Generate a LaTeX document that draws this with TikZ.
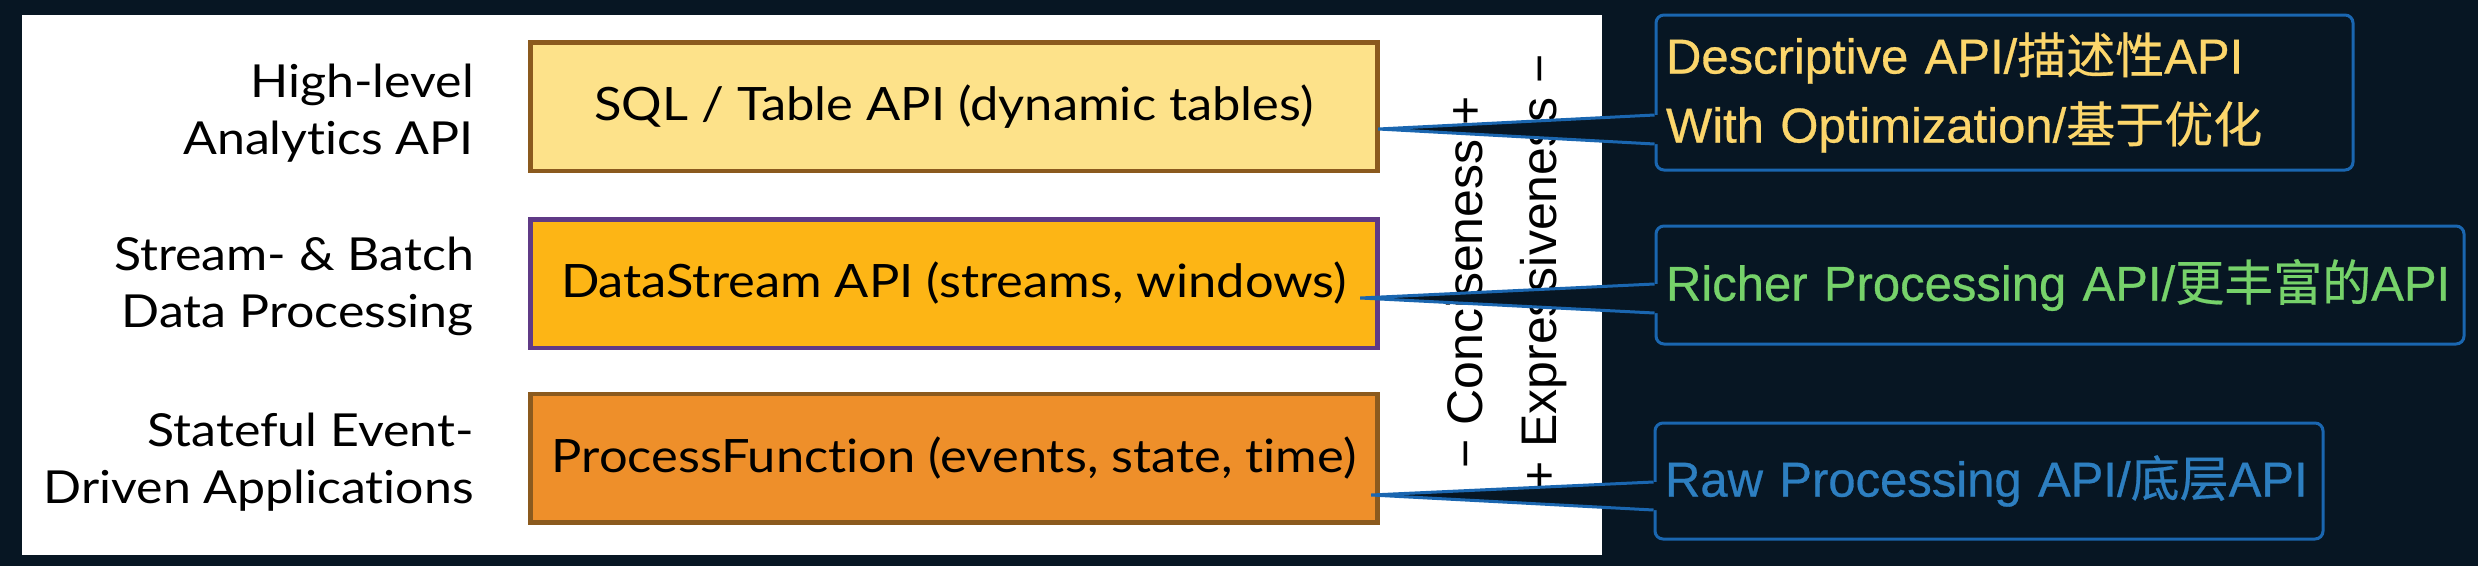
\documentclass[tikz,border=0pt]{standalone}
\usepackage{fontspec}
\setmainfont{Lato}[FakeStretch=1.1, Ligatures=NoCommon]
\newfontfamily\helv{Liberation Sans}[FakeBold=0.6]
\newfontfamily\helvplain{Liberation Sans}
\newfontfamily\cjk{Noto Sans CJK SC}[FakeBold=0.4]
\usetikzlibrary{calc}
\definecolor{bgdark}{HTML}{071623}
\definecolor{yfill}{HTML}{FDE28A}
\definecolor{gfill}{HTML}{FDB515}
\definecolor{ofill}{HTML}{EE8F2A}
\definecolor{brownb}{HTML}{8B5A1E}
\definecolor{purpleb}{HTML}{5F3A86}
\definecolor{callblue}{HTML}{1A66B0}
\definecolor{tyellow}{HTML}{FCD66B}
\definecolor{tgreen}{HTML}{76D26A}
\definecolor{tblue}{HTML}{2D7FC1}
\tikzset{
  apibox/.style={draw, line width=4.5pt, minimum width=847pt, minimum height=128.5pt, inner sep=0pt,
    font=\fontsize{46}{55}\selectfont},
  lab/.style={align=right, inner sep=0pt, font=\fontsize{45.5}{57}\selectfont},
  vtext/.style={rotate=90, anchor=base, inner sep=0pt, font=\helvplain\fontsize{50}{60}\selectfont},
  callout/.style={draw=callblue, fill=bgdark, line width=3pt, rounded corners=8pt,
    inner xsep=10pt, inner ysep=0pt, align=left, font=\helv\fontsize{49}{69}\selectfont},
  wedgefill/.style={fill=bgdark},
  wedgeline/.style={draw=callblue, line width=3pt, line join=miter},
}
\begin{document}
\begin{tikzpicture}[x=1pt, y=-1pt]
\useasboundingbox (0,0) rectangle (2478,566);
\fill[bgdark] (0,0) rectangle (2478,566);
\fill[white] (22,15) rectangle (1602,555);

% API boxes
\node[apibox, fill=yfill, draw=brownb] (b1) at (954,106.5) {SQL / Table API (dynamic tables)};
\node[apibox, fill=gfill, draw=purpleb] (b2) at (954,283.5) {DataStream API (streams, windows)};
\node[apibox, fill=ofill, draw=brownb] (b3) at (954,458) {ProcessFunction (events, state, time)};

% left labels
\node[lab, anchor=east] (l1) at (474,113.5) {High-level\\Analytics API};
\node[lab, anchor=east] (l2) at (474,286.5) {Stream- \& Batch\\Data Processing};
\node[lab, anchor=east] (l3) at (474,462.5) {Stateful Event-\\Driven Applications};

% vertical axis texts
\node[vtext] (conc) at (1482,282.5) {−\ Conciseness\ +};
\node[vtext] (expr) at (1556,272.5) {+\ Expressiveness\ −};

% callouts
\node[callout, text width=677pt, minimum width=697pt, minimum height=155pt, text=tyellow] (c1) at (2004.5,92.5)
  {Descriptive API/{\cjk 描述性}API\\With Optimization/{\cjk 基于优化}};
\node[callout, text width=788pt, minimum width=808pt, minimum height=118pt, text=tgreen] (c2) at (2060,285)
  {Richer Processing API/{\cjk 更丰富的}API};
\node[callout, text width=648pt, minimum width=668pt, minimum height=116pt, text=tblue] (c3) at (1989,481)
  {Raw Processing API/{\cjk 底层}API};

% pointer coordinates
\coordinate (t1) at ($(b1.east)+(-1.5,22.5)$);
\coordinate (t2) at ($(b2.east)+(-19.5,14.5)$);
\coordinate (t3) at ($(b3.east)+(-8.5,37)$);
\coordinate (p1a) at ($(c1.west)+(0,22.5)$);
\coordinate (p1b) at ($(c1.west)+(0,51.5)$);
\coordinate (p2a) at ($(c2.west)+(0,-1)$);
\coordinate (p2b) at ($(c2.west)+(0,28)$);
\coordinate (p3a) at ($(c3.west)+(0,1)$);
\coordinate (p3b) at ($(c3.west)+(0,29)$);

\foreach \i in {1,2,3}{
  \fill[wedgefill] (p\i a) -- (t\i) -- (p\i b) -- ($(p\i b)+(4,0)$) -- ($(p\i a)+(4,0)$) -- cycle;
  \draw[wedgeline] (p\i a) -- (t\i) -- (p\i b);
}
\end{tikzpicture}
\end{document}
